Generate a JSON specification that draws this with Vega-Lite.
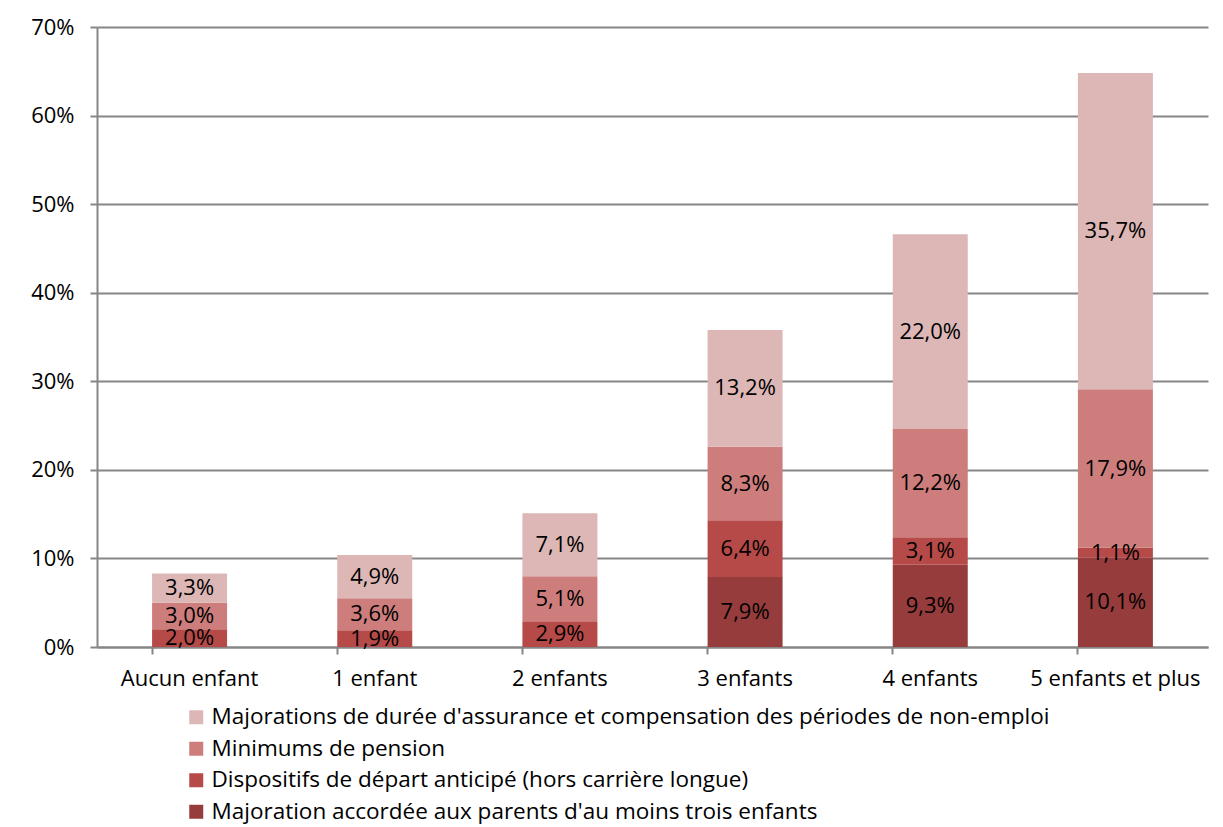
{
  "$schema": "https://vega.github.io/schema/vega-lite/v6.json",
  "width": 1111,
  "height": 620,
  "padding": {"left": 97, "top": 27, "right": 15, "bottom": 180},
  "autosize": {"type": "none"},
  "background": "white",
  "data": {
    "values": [
      {"cat": "Aucun enfant", "serie": "Majoration accordée aux parents d'au moins trois enfants", "ord": 1, "v": 0},
      {"cat": "Aucun enfant", "serie": "Dispositifs de départ anticipé (hors carrière longue)", "ord": 2, "v": 2.0},
      {"cat": "Aucun enfant", "serie": "Minimums de pension", "ord": 3, "v": 3.0},
      {"cat": "Aucun enfant", "serie": "Majorations de durée d'assurance et compensation des périodes de non-emploi", "ord": 4, "v": 3.3},
      {"cat": "1 enfant", "serie": "Majoration accordée aux parents d'au moins trois enfants", "ord": 1, "v": 0},
      {"cat": "1 enfant", "serie": "Dispositifs de départ anticipé (hors carrière longue)", "ord": 2, "v": 1.9},
      {"cat": "1 enfant", "serie": "Minimums de pension", "ord": 3, "v": 3.6},
      {"cat": "1 enfant", "serie": "Majorations de durée d'assurance et compensation des périodes de non-emploi", "ord": 4, "v": 4.9},
      {"cat": "2 enfants", "serie": "Majoration accordée aux parents d'au moins trois enfants", "ord": 1, "v": 0},
      {"cat": "2 enfants", "serie": "Dispositifs de départ anticipé (hors carrière longue)", "ord": 2, "v": 2.9},
      {"cat": "2 enfants", "serie": "Minimums de pension", "ord": 3, "v": 5.1},
      {"cat": "2 enfants", "serie": "Majorations de durée d'assurance et compensation des périodes de non-emploi", "ord": 4, "v": 7.1},
      {"cat": "3 enfants", "serie": "Majoration accordée aux parents d'au moins trois enfants", "ord": 1, "v": 7.9},
      {"cat": "3 enfants", "serie": "Dispositifs de départ anticipé (hors carrière longue)", "ord": 2, "v": 6.4},
      {"cat": "3 enfants", "serie": "Minimums de pension", "ord": 3, "v": 8.3},
      {"cat": "3 enfants", "serie": "Majorations de durée d'assurance et compensation des périodes de non-emploi", "ord": 4, "v": 13.2},
      {"cat": "4 enfants", "serie": "Majoration accordée aux parents d'au moins trois enfants", "ord": 1, "v": 9.3},
      {"cat": "4 enfants", "serie": "Dispositifs de départ anticipé (hors carrière longue)", "ord": 2, "v": 3.1},
      {"cat": "4 enfants", "serie": "Minimums de pension", "ord": 3, "v": 12.2},
      {"cat": "4 enfants", "serie": "Majorations de durée d'assurance et compensation des périodes de non-emploi", "ord": 4, "v": 22.0},
      {"cat": "5 enfants et plus", "serie": "Majoration accordée aux parents d'au moins trois enfants", "ord": 1, "v": 10.1},
      {"cat": "5 enfants et plus", "serie": "Dispositifs de départ anticipé (hors carrière longue)", "ord": 2, "v": 1.1},
      {"cat": "5 enfants et plus", "serie": "Minimums de pension", "ord": 3, "v": 17.9},
      {"cat": "5 enfants et plus", "serie": "Majorations de durée d'assurance et compensation des périodes de non-emploi", "ord": 4, "v": 35.7}
    ]
  },
  "transform": [
    {"stack": "v", "groupby": ["cat"], "sort": [{"field": "ord", "order": "ascending"}], "as": ["y0", "y1"]},
    {"calculate": "(datum.y0 + datum.y1) / 2", "as": "ymid"},
    {"calculate": "replace(format(datum.v, '.1f'), '.', ',') + '%'", "as": "lab"}
  ],
  "encoding": {
    "x": {
      "field": "cat", "type": "nominal", "sort": null,
      "scale": {"paddingInner": 0.595, "paddingOuter": 0.2975},
      "axis": {
        "title": null, "labelAngle": 0, "labelFontSize": 22, "labelFont": "Open Sans",
        "labelColor": "black", "labelPadding": 14, "bandPosition": 0,
        "domainColor": "#868686", "domainWidth": 2, "tickColor": "#868686", "tickWidth": 2, "tickSize": 7
      }
    }
  },
  "layer": [
    {
      "mark": {"type": "bar"},
      "encoding": {
        "y": {
          "field": "y0", "type": "quantitative",
          "scale": {"domain": [0, 70]},
          "axis": {
            "title": null, "values": [0, 10, 20, 30, 40, 50, 60, 70],
            "labelExpr": "datum.value + '%'", "labelFontSize": 22, "labelFont": "Open Sans", "labelColor": "black",
            "labelPadding": 16, "grid": true, "gridColor": "#868686", "gridWidth": 2,
            "domainColor": "#868686", "domainWidth": 2, "tickColor": "#868686", "tickWidth": 2, "tickSize": 7
          }
        },
        "y2": {"field": "y1"},
        "color": {
          "field": "serie", "type": "nominal",
          "sort": [
            "Majorations de durée d'assurance et compensation des périodes de non-emploi",
            "Minimums de pension",
            "Dispositifs de départ anticipé (hors carrière longue)",
            "Majoration accordée aux parents d'au moins trois enfants"
          ],
          "scale": {
            "domain": [
              "Majorations de durée d'assurance et compensation des périodes de non-emploi",
              "Minimums de pension",
              "Dispositifs de départ anticipé (hors carrière longue)",
              "Majoration accordée aux parents d'au moins trois enfants"
            ],
            "range": ["#DDB7B6", "#CD7D7C", "#B64A48", "#963C3C"]
          },
          "legend": {
            "title": null, "orient": "none", "legendX": 88, "legendY": 679,
            "direction": "vertical", "symbolType": "square", "symbolSize": 196,
            "symbolStrokeWidth": 0, "labelFontSize": 22.5, "labelFont": "Open Sans", "labelColor": "black",
            "labelLimit": 1100, "rowPadding": 8.5, "labelOffset": 4
          }
        }
      }
    },
    {
      "transform": [{"filter": "datum.v > 0"}],
      "mark": {"type": "text", "fontSize": 22, "font": "Open Sans", "color": "black", "baseline": "middle"},
      "encoding": {
        "y": {"field": "ymid", "type": "quantitative"},
        "text": {"field": "lab"}
      }
    }
  ],
  "config": {"view": {"stroke": null}}
}
